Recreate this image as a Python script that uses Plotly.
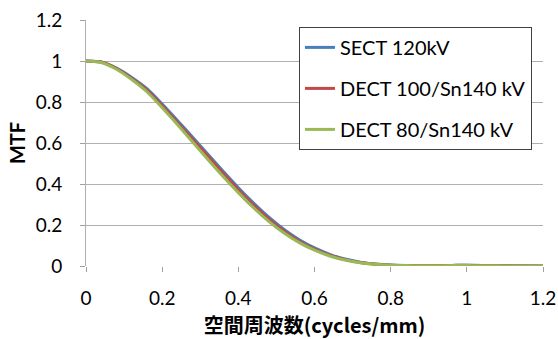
import plotly.graph_objects as go

freq = [0, 0.04, 0.08, 0.12, 0.16, 0.20, 0.24, 0.28, 0.32, 0.36, 0.40, 0.44, 0.48, 0.52,
        0.56, 0.60, 0.64, 0.68, 0.72, 0.76, 0.80, 0.84, 0.88, 0.92, 0.96, 1.00, 1.04,
        1.08, 1.12, 1.16, 1.20]
sect_120 = [1.0, 0.995, 0.965, 0.92, 0.865, 0.79, 0.71, 0.628, 0.545, 0.462, 0.382, 0.307,
            0.238, 0.178, 0.128, 0.088, 0.057, 0.034, 0.019, 0.010, 0.005, 0.003, 0.002,
            0.002, 0.003, 0.004, 0.003, 0.002, 0.001, 0.001, 0.0]
dect_100 = [1.0, 0.995, 0.963, 0.915, 0.858, 0.782, 0.70, 0.618, 0.535, 0.452, 0.372, 0.297,
            0.229, 0.170, 0.121, 0.082, 0.053, 0.031, 0.017, 0.009, 0.004, 0.002, 0.002,
            0.002, 0.003, 0.004, 0.002, 0.001, 0.001, 0.0, 0.0]
dect_80 = [1.0, 0.993, 0.96, 0.91, 0.85, 0.772, 0.69, 0.605, 0.52, 0.437, 0.358, 0.284,
           0.218, 0.161, 0.114, 0.077, 0.049, 0.029, 0.016, 0.008, 0.004, 0.002, 0.001,
           0.001, 0.002, 0.002, 0.001, 0.001, 0.0, 0.0, 0.0]

names = ["SECT 120kV", "DECT 100/Sn140 kV", "DECT 80/Sn140 kV"]
colors = ["#4A7EBB", "#BE4B48", "#98B954"]
series = [sect_120, dect_100, dect_80]

x_ticks = [0, 0.2, 0.4, 0.6, 0.8, 1.0, 1.2]
x_tick_text = ["0", "0.2", "0.4", "0.6", "0.8", "1", "1.2"]
y_ticks = [0, 0.2, 0.4, 0.6, 0.8, 1.0, 1.2]
y_tick_text = ["0", "0.2", "0.4", "0.6", "0.8", "1", "1.2"]

fig = go.Figure()
for i, (n, c, s) in enumerate(zip(names, colors, series)):
    fig.add_trace(go.Scatter(x=freq, y=s, name=n, mode="lines", legendgroup=f"g{i}",
                             line=dict(color=c, width=3, shape="spline", smoothing=0.6)))

font = "Lato, 'Noto Sans CJK JP', sans-serif"
fig.update_layout(
    width=558, height=339,
    margin=dict(l=86, r=15, t=20, b=73),
    paper_bgcolor="white", plot_bgcolor="white",
    font=dict(family=font, size=19, color="#000000"),
    showlegend=True,
    legend=dict(x=0.466, y=0.972, xanchor="left", yanchor="top",
                bordercolor="#404040", borderwidth=1, bgcolor="white",
                font=dict(size=20, family=font), tracegroupgap=12,
                itemwidth=30),
    xaxis=dict(range=[0, 1.2], tickvals=x_ticks, ticktext=x_tick_text,
               showgrid=False, zeroline=False, showline=False, automargin=False,
               ticklabeloverflow="allow",
               ticks="outside", ticklen=5, tickcolor="#A0A0A0", ticklabelstandoff=10,
               title=dict(text="<b>空間周波数(cycles/mm)</b>", standoff=15,
                          font=dict(size=20, family="'Noto Sans CJK JP', sans-serif"))),
    yaxis=dict(range=[0, 1.2], tickvals=y_ticks, ticktext=y_tick_text,
               showgrid=True, gridcolor="#B0B0B0", gridwidth=1, automargin=False,
               ticklabeloverflow="allow",
               zeroline=False, showline=True, linecolor="#B0B0B0",
               ticks="outside", ticklen=5, tickcolor="#A0A0A0", ticklabelstandoff=14,
               title=dict(text="<b>MTF</b>", standoff=4, font=dict(size=20))),
)
fig.write_html("out.html", config={"displayModeBar": False},
               post_script="document.body.style.margin='0';")
